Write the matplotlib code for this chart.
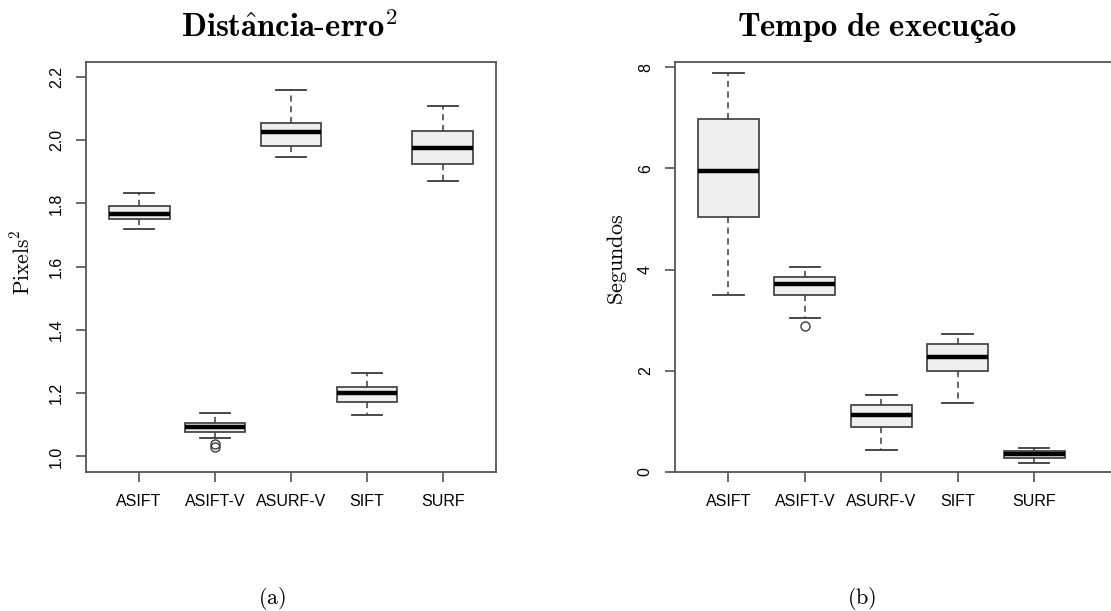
import numpy as np
import matplotlib
matplotlib.use("Agg")
from matplotlib import pyplot as plt

plt.rcParams['mathtext.fontset'] = 'cm'
plt.rcParams['font.family'] = ['Liberation Sans', 'DejaVu Sans']

methods = ["ASIFT", "ASIFT-V", "ASURF-V", "SIFT", "SURF"]

# distancia-erro^2 (pixels^2): whislo, q1, med, q3, whishi
dist_lo = [1.718, 1.059, 1.947, 1.130, 1.871]
dist_q1 = [1.751, 1.078, 1.982, 1.172, 1.924]
dist_med = [1.767, 1.092, 2.026, 1.200, 1.975]
dist_q3 = [1.792, 1.107, 2.054, 1.221, 2.029]
dist_hi = [1.832, 1.139, 2.160, 1.265, 2.107]
dist_out = [[], [1.038, 1.030], [], [], []]

# tempo de execucao (segundos)
time_lo = [3.49, 3.05, 0.435, 1.37, 0.18]
time_q1 = [5.04, 3.49, 0.89, 1.99, 0.28]
time_med = [5.94, 3.72, 1.12, 2.28, 0.36]
time_q3 = [6.97, 3.86, 1.32, 2.52, 0.42]
time_hi = [7.88, 4.055, 1.52, 2.73, 0.47]
time_out = [[], [2.875], [], [], []]

dist_ticks = [1.0, 1.2, 1.4, 1.6, 1.8, 2.0, 2.2]
time_ticks = [0, 2, 4, 6, 8]


def make_stats(lo, q1, med, q3, hi, out):
    stats = []
    for i in range(len(lo)):
        stats.append(dict(whislo=lo[i], q1=q1[i], med=med[i], q3=q3[i],
                          whishi=hi[i], fliers=out[i]))
    return stats


def draw(ax, stats, ticks, ticklabels):
    ax.bxp(stats, positions=np.arange(1, len(stats) + 1), widths=0.8,
           patch_artist=True, showfliers=True,
           boxprops=dict(facecolor='#efefef', edgecolor='#3a3a3a', linewidth=1.2),
           medianprops=dict(color='black', linewidth=3.2, solid_capstyle='butt'),
           whiskerprops=dict(color='#3a3a3a', linewidth=1.1, linestyle=(0, (4, 3))),
           capprops=dict(color='#3a3a3a', linewidth=1.3),
           flierprops=dict(marker='o', markersize=6.5, markerfacecolor='none',
                           markeredgecolor='#3a3a3a', markeredgewidth=1.0))
    for s in ax.spines.values():
        s.set_color('#555555')
        s.set_linewidth(1.3)
    ax.set_xticks(np.arange(1, len(stats) + 1))
    ax.set_xticklabels(methods, fontsize=11.5)
    ax.set_yticks(ticks)
    ax.set_yticklabels(ticklabels, fontsize=11.5, rotation=90, va='center')
    ax.tick_params(axis='both', length=7, width=1.1, color='#444444', pad=9)


fig = plt.figure(figsize=(11.11, 6.11), dpi=100)

ax1 = fig.add_axes([86 / 1111, 1 - 472 / 611, 410 / 1111, 410 / 611])
draw(ax1, make_stats(dist_lo, dist_q1, dist_med, dist_q3, dist_hi, dist_out),
     dist_ticks, ["%.1f" % t for t in dist_ticks])
ax1.set_xlim(0.3, 5.7)
ax1.set_ylim(0.951, 2.247)

# right panel runs off the right edge of the picture
ax2 = fig.add_axes([675 / 1111, 1 - 472 / 611, 480 / 1111, 410 / 611])
draw(ax2, make_stats(time_lo, time_q1, time_med, time_q3, time_hi, time_out),
     time_ticks, [str(t) for t in time_ticks])
ax2.set_xlim(0.3, 0.3 + 480 / 76.4)
ax2.set_ylim(0, 8.1)
ax2.spines['right'].set_visible(False)

fig.text(289 / 1111, 1 - 28 / 611, r'$\mathbf{Dist\hat{a}ncia\text{-}erro}^{2}$',
         fontsize=23.5, ha='center', va='center')
fig.text(877 / 1111, 1 - 28 / 611, r'$\mathbf{Tempo\ de\ execu' + 'ç' + r'\tilde{a}o}$',
         fontsize=23.5, ha='center', va='center')
fig.text(23 / 1111, 1 - 262 / 611, r'$\mathrm{Pixels}^{2}$', fontsize=15.5,
         rotation=90, ha='center', va='center')
fig.text(617 / 1111, 1 - 259 / 611, r'$\mathrm{Segundos}$', fontsize=16,
         rotation=90, ha='center', va='center')
fig.text(272 / 1111, 1 - 598 / 611, r'$\mathrm{(a)}$', fontsize=16, ha='center', va='center')
fig.text(862 / 1111, 1 - 598 / 611, r'$\mathrm{(b)}$', fontsize=16, ha='center', va='center')

fig.savefig("out.png", dpi=100)
